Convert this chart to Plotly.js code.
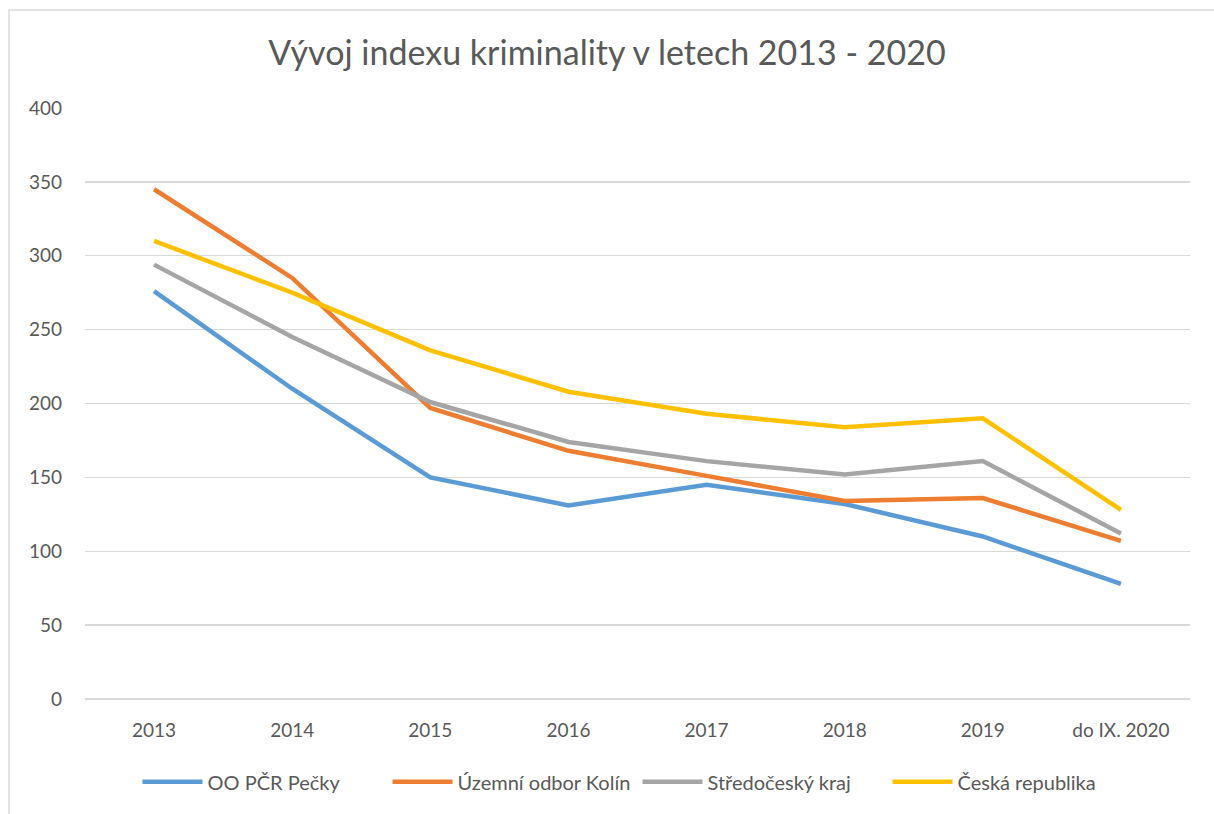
<!DOCTYPE html>
<html>
<head>
<meta charset="utf-8">
<script src="https://cdn.plot.ly/plotly-3.0.1.min.js"></script>
<style>html,body{margin:0;padding:0;background:#fff;}#chart{width:1214px;height:814px;}</style>
</head>
<body>
<div id="chart"></div>
<script>
const categories = ["2013", "2014", "2015", "2016", "2017", "2018", "2019", "do IX. 2020"];
const seriesNames = ["OO PČR Pečky", "Územní odbor Kolín", "Středočeský kraj", "Česká republika"];
const pecky = [276, 210, 150, 131, 145, 132, 110, 78];
const kolin = [345, 285, 197, 168, 151, 134, 136, 107];
const stredocesky = [294, 245, 201, 174, 161, 152, 161, 112];
const cr = [310, 275, 236, 208, 193, 184, 190, 128];
const colors = ["#5B9BD5", "#ED7D31", "#A5A5A5", "#FFC000"];

const values = [pecky, kolin, stredocesky, cr];
const traces = values.map((v, i) => ({
  type: "scatter",
  mode: "lines",
  x: categories,
  y: v,
  name: seriesNames[i],
  line: {color: colors[i], width: 4.5}
}));

const font = "Lato, 'Open Sans', sans-serif";
const layout = {
  width: 1214, height: 814,
  margin: {l: 85, r: 24, t: 108, b: 115},
  paper_bgcolor: "#fff", plot_bgcolor: "#fff",
  title: {text: "Vývoj indexu kriminality v letech 2013 - 2020", font: {family: font, size: 34, color: "#595959"}, x: 0.5, xanchor: "center", y: 0.935, yanchor: "middle"},
  xaxis: {type: "category", range: [-0.5, 7.5], showgrid: false, zeroline: false, showline: false, ticks: "",
          tickfont: {family: font, size: 19, color: "#595959"}, ticklabelstandoff: 18},
  yaxis: {range: [0, 400], dtick: 50, showgrid: true, gridcolor: "#d9d9d9", gridwidth: 1.3, zeroline: true, zerolinecolor: "#d9d9d9", zerolinewidth: 1.3,
          showline: false, ticks: "", tickfont: {family: font, size: 19, color: "#595959"}, ticklen: 0, ticklabelstandoff: 22},
  legend: {orientation: "h", x: 0.5, xanchor: "center", y: -0.14, yanchor: "middle", font: {family: font, size: 20, color: "#595959"}, itemwidth: 60, entrywidth: 175, entrywidthmode: "pixels"},
  showlegend: true,
  shapes: [{type: "rect", xref: "paper", yref: "paper", x0: -0.0688, x1: 1.04, y0: -0.23, y1: 1.1658, line: {color: "#d9d9d9", width: 1.5}, fillcolor: "rgba(0,0,0,0)", layer: "below"}]
};
Plotly.newPlot("chart", traces, layout, {displayModeBar: false, staticPlot: true});
</script>
</body>
</html>
